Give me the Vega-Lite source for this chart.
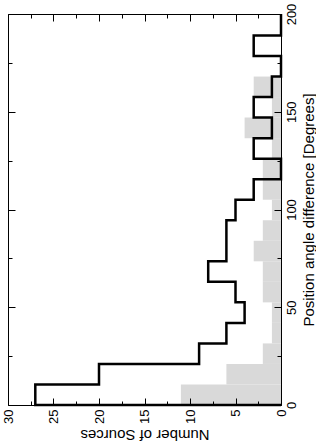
{
  "$schema": "https://vega.github.io/schema/vega-lite/v6.json",
  "width": 273,
  "height": 391,
  "autosize": {"type": "none"},
  "padding": {"left": 8, "top": 14, "right": 35, "bottom": 38},
  "config": {
    "view": {"stroke": null},
    "font": "Liberation Sans",
    "axis": {"grid": false, "domain": false, "labelColor": "#000", "titleColor": "#000", "tickColor": "#000", "domainColor": "#000", "labelFont": "Liberation Sans", "titleFont": "Liberation Sans", "titleFontWeight": "normal"}
  },
  "datasets": {
    "bins": [
      {"start": 0, "end": 10.5, "gray": 11},
      {"start": 10.5, "end": 21, "gray": 6},
      {"start": 21, "end": 31.5, "gray": 2},
      {"start": 31.5, "end": 42, "gray": 1},
      {"start": 42, "end": 52.5, "gray": 1},
      {"start": 52.5, "end": 63, "gray": 2},
      {"start": 63, "end": 73.5, "gray": 2},
      {"start": 73.5, "end": 84, "gray": 3},
      {"start": 84, "end": 94.5, "gray": 2},
      {"start": 94.5, "end": 105, "gray": 1},
      {"start": 105, "end": 115.5, "gray": 2},
      {"start": 115.5, "end": 126, "gray": 2},
      {"start": 126, "end": 136.5, "gray": 1},
      {"start": 136.5, "end": 147, "gray": 4},
      {"start": 147, "end": 157.5, "gray": 1},
      {"start": 157.5, "end": 168, "gray": 3},
      {"start": 168, "end": 178.5, "gray": 0},
      {"start": 178.5, "end": 189, "gray": 0}
    ],
    "outline": [
      {"k": 0, "angle": 0, "count": 0},
      {"k": 1, "angle": 0, "count": 27},
      {"k": 2, "angle": 10.5, "count": 20},
      {"k": 3, "angle": 21, "count": 9},
      {"k": 4, "angle": 31.5, "count": 6},
      {"k": 5, "angle": 42, "count": 4},
      {"k": 6, "angle": 52.5, "count": 5},
      {"k": 7, "angle": 63, "count": 8},
      {"k": 8, "angle": 73.5, "count": 6},
      {"k": 9, "angle": 84, "count": 6},
      {"k": 10, "angle": 94.5, "count": 5},
      {"k": 11, "angle": 105, "count": 3},
      {"k": 12, "angle": 115.5, "count": 0},
      {"k": 13, "angle": 126, "count": 3},
      {"k": 14, "angle": 136.5, "count": 1},
      {"k": 15, "angle": 147, "count": 3},
      {"k": 16, "angle": 157.5, "count": 1},
      {"k": 17, "angle": 168, "count": 0},
      {"k": 18, "angle": 178.5, "count": 3},
      {"k": 19, "angle": 189, "count": 0},
      {"k": 20, "angle": 200, "count": 0}
    ]
  },
  "resolve": {"axis": {"x": "independent", "y": "independent"}},
  "layer": [
    {
      "data": {"name": "bins"},
      "mark": {"type": "bar", "color": "#d9d9d9", "stroke": null},
      "encoding": {
        "x": {"field": "gray", "type": "quantitative", "scale": {"domain": [0, 30], "reverse": true, "nice": false, "zero": true},
          "axis": {"orient": "bottom", "values": [0, 5, 10, 15, 20, 25, 30], "ticks": false, "labelAngle": -90, "labelAlign": "right", "labelBaseline": "middle", "labelPadding": 4, "labelFontSize": 13, "title": "Number of Sources", "titleAngle": 180, "titleBaseline": "bottom", "titleAlign": "center", "titleFontSize": 15, "titlePadding": 3}},
        "x2": {"datum": 0},
        "y": {"field": "start", "type": "quantitative", "scale": {"domain": [0, 200], "nice": false},
          "axis": {"orient": "right", "values": [0, 50, 100, 150, 200], "ticks": false, "labelAngle": -90, "labelAlign": "center", "labelBaseline": "top", "labelPadding": 4, "labelFontSize": 13, "title": "Position angle difference [Degrees]", "titleAngle": -90, "titleBaseline": "top", "titleAlign": "center", "titleFontSize": 15, "titlePadding": 3}},
        "y2": {"field": "end"}
      }
    },
    {
      "data": {"name": "outline"},
      "mark": {"type": "line", "color": "#000", "strokeWidth": 2.5, "interpolate": "step-before", "strokeJoin": "miter", "clip": false},
      "encoding": {
        "x": {"field": "count", "type": "quantitative",
          "axis": {"orient": "bottom", "values": [0, 5, 10, 15, 20, 25, 30], "tickSize": -7, "labels": false, "title": null, "domain": true, "zindex": 2}},
        "y": {"field": "angle", "type": "quantitative",
          "axis": {"orient": "right", "values": [0, 50, 100, 150, 200], "tickSize": -7, "labels": false, "title": null, "domain": true, "zindex": 2}},
        "order": {"field": "k", "type": "quantitative"}
      }
    },
    {
      "data": {"name": "bins"},
      "mark": {"type": "point", "opacity": 0},
      "encoding": {
        "x": {"field": "gray", "type": "quantitative",
          "axis": {"orient": "bottom", "values": [2.5, 7.5, 12.5, 17.5, 22.5, 27.5], "tickSize": -4, "labels": false, "title": null, "zindex": 2}},
        "y": {"field": "start", "type": "quantitative",
          "axis": {"orient": "right", "values": [25, 75, 125, 175], "tickSize": -4, "labels": false, "title": null, "zindex": 2}}
      }
    },
    {
      "data": {"name": "bins"},
      "mark": {"type": "point", "opacity": 0},
      "encoding": {
        "x": {"field": "gray", "type": "quantitative",
          "axis": {"orient": "top", "values": [0, 5, 10, 15, 20, 25, 30], "tickSize": -7, "labels": false, "title": null, "domain": true, "zindex": 2}},
        "y": {"field": "start", "type": "quantitative",
          "axis": {"orient": "left", "values": [0, 50, 100, 150, 200], "tickSize": -7, "labels": false, "title": null, "domain": true, "zindex": 2}}
      }
    },
    {
      "data": {"name": "bins"},
      "mark": {"type": "point", "opacity": 0},
      "encoding": {
        "x": {"field": "gray", "type": "quantitative",
          "axis": {"orient": "top", "values": [2.5, 7.5, 12.5, 17.5, 22.5, 27.5], "tickSize": -4, "labels": false, "title": null, "zindex": 2}},
        "y": {"field": "start", "type": "quantitative",
          "axis": {"orient": "left", "values": [25, 75, 125, 175], "tickSize": -4, "labels": false, "title": null, "zindex": 2}}
      }
    }
  ]
}
